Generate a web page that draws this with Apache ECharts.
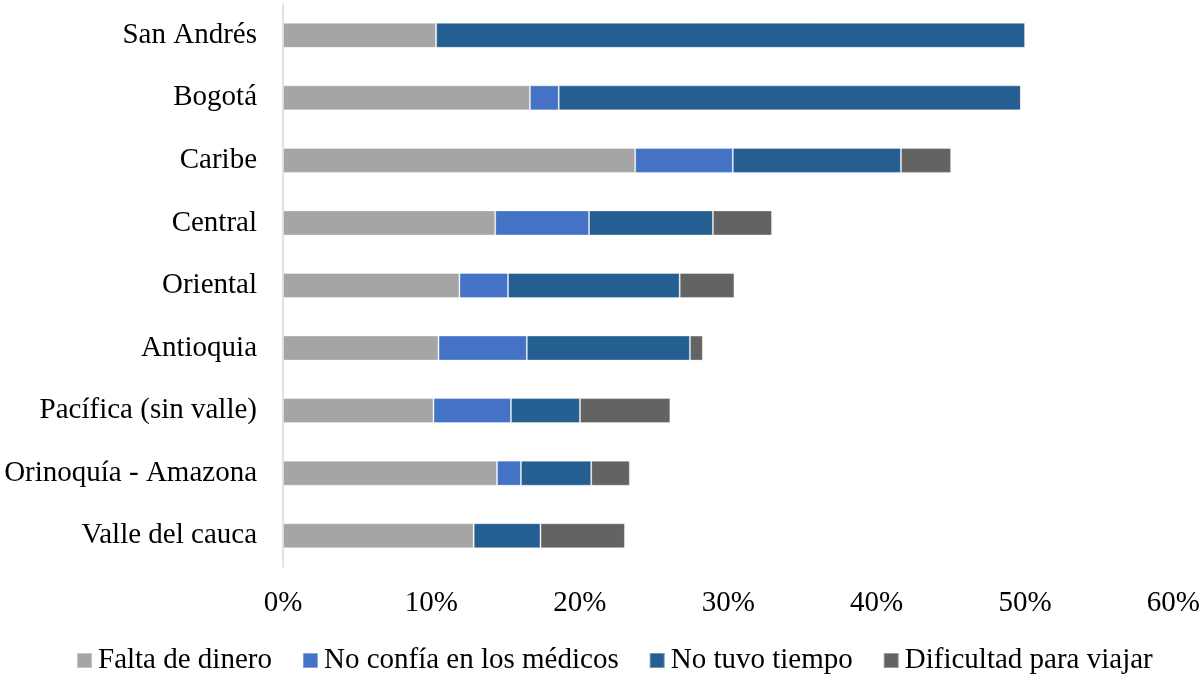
<!DOCTYPE html>
<html>
<head>
<meta charset="utf-8">
<script src="https://cdn.jsdelivr.net/npm/echarts@6/dist/echarts.min.js"></script>
<style>html,body{margin:0;padding:0;background:#fff;overflow:hidden;}#c{width:1203px;height:674px;}</style>
</head>
<body>
<div id="c"></div>
<script>
const categories = ["San Andrés","Bogotá","Caribe","Central","Oriental","Antioquia","Pacífica (sin valle)","Orinoquía - Amazona","Valle del cauca"];
const faltaDinero = [10.32, 16.64, 23.73, 14.30, 11.89, 10.48, 10.14, 14.42, 12.85];
const noConfia = [0, 1.94, 6.58, 6.32, 3.27, 5.95, 5.22, 1.61, 0];
const noTiempo = [39.69, 31.14, 11.33, 8.35, 11.57, 10.99, 4.65, 4.74, 4.50];
const dificultad = [0, 0, 3.38, 3.98, 3.69, 0.87, 6.09, 2.60, 5.69];
const seriesNames = ["Falta de dinero","No confía en los médicos","No tuvo tiempo","Dificultad para viajar"];
const colors = ["#A5A5A5","#4472C4","#255E91","#636363"];
const xTicks = [0, 10, 20, 30, 40, 50, 60];

const font = "'Liberation Serif','Times New Roman',serif";
const chart = echarts.init(document.getElementById('c'), null, {renderer:'canvas', width:1203, height:674});
const dataSets = [faltaDinero, noConfia, noTiempo, dificultad];
chart.setOption({
  animation: false,
  color: colors,
  textStyle: {fontFamily: font},
  grid: {left: 283, right: 26, top: 4, bottom: 107, containLabel: false},
  legend: {
    left: 71, top: 641,
    itemWidth: 15, itemHeight: 15, itemGap: 30,
    icon: 'rect',
    textStyle: {fontFamily: font, fontSize: 29, color: '#000', padding: [0,0,0,1]},
    data: seriesNames
  },
  xAxis: {
    type: 'value', min: 0, max: 60, interval: 10,
    axisLine: {show: false}, axisTick: {show: false},
    splitLine: {show: false},
    axisLabel: {fontFamily: font, fontSize: 29, color: '#000', margin: 22,
      formatter: v => xTicks.includes(v) ? v + '%' : ''}
  },
  yAxis: {
    type: 'category', data: categories, inverse: true,
    axisLine: {show: true, lineStyle: {color: '#D9D9D9', width: 1.5}},
    axisTick: {show: false},
    axisLabel: {fontFamily: font, fontSize: 29, color: '#000', margin: 26}
  },
  series: dataSets.map((d, i) => ({
    name: seriesNames[i], type: 'bar', stack: 'total',
    barCategoryGap: '60%',
    itemStyle: {color: colors[i], borderColor: 'rgba(255,255,255,0.35)', borderWidth: 1},
    data: d
  }))
});
</script>
</body>
</html>
